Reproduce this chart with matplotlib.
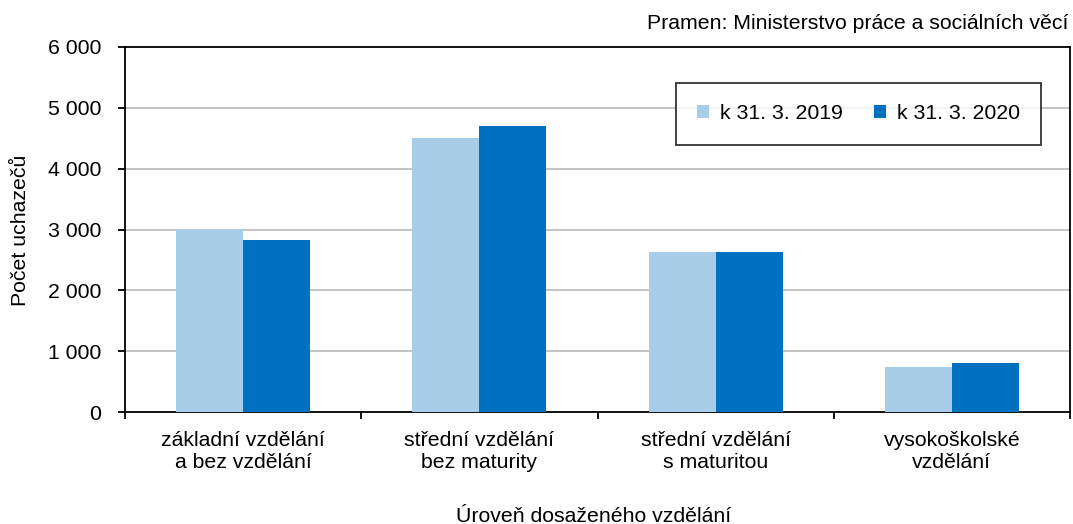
import matplotlib
matplotlib.use("Agg")
import matplotlib.pyplot as plt
import matplotlib.transforms as mtransforms
import numpy as np
from matplotlib.ticker import FuncFormatter, FixedLocator, NullFormatter

plt.rcParams["font.family"] = ["Liberation Sans", "DejaVu Sans"]

categories = ["základní vzdělání\na bez vzdělání", "střední vzdělání\nbez maturity",
              "střední vzdělání\ns maturitou", "vysokoškolské\nvzdělání"]
series_names = ["k 31. 3. 2019", "k 31. 3. 2020"]
vals_2019 = [3005, 4500, 2635, 735]
vals_2020 = [2830, 4700, 2635, 800]
colors = ["#a7cde8", "#0070c0"]

FS = 15.3
W, H = 1073, 524

fig = plt.figure(figsize=(W / 100, H / 100), dpi=100)
ax = fig.add_axes([125 / W, 1 - 412 / H, 945 / W, 365 / H])

x = np.arange(len(categories))
w = 0.284
ax.bar(x - w / 2, vals_2019, w, color=colors[0], label=series_names[0], zorder=3)
ax.bar(x + w / 2, vals_2020, w, color=colors[1], label=series_names[1], zorder=3)

ax.set_xlim(-0.5, len(categories) - 0.5)
ax.set_ylim(0, 6000)
ax.set_yticks(np.arange(0, 6001, 1000))
ax.yaxis.set_major_formatter(FuncFormatter(lambda v, p: f"{int(v):,}".replace(",", " ")))
ax.grid(axis="y", color="#bfbfbf", lw=1.3, zorder=0)

# category labels centred, ticks at category boundaries
ax.xaxis.set_major_locator(FixedLocator(np.arange(-0.5, len(categories), 1.0)))
ax.xaxis.set_major_formatter(NullFormatter())
trans = mtransforms.blended_transform_factory(ax.transData, fig.transFigure)
for xi, lab in zip(x, categories):
    for k, line in enumerate(lab.split("\n")):
        ax.text(xi, 1 - (446 + 22 * k) / H, line, ha="center", va="baseline",
                fontsize=FS, transform=trans)

ax.tick_params(axis="y", direction="out", length=5, width=1.3, labelsize=FS, pad=12)
ax.tick_params(axis="x", direction="out", length=5, width=1.3)
for s in ax.spines.values():
    s.set_linewidth(1.3)
    s.set_color("black")

fig.text(21 / W, 1 - 230 / H, "Počet uchazečů", rotation=90, ha="center", va="center",
         fontsize=FS)
fig.text(594 / W, 1 - 522 / H, "Úroveň dosaženého vzdělání", ha="center",
         va="baseline", fontsize=FS)
fig.text(1068 / W, 1 - 29 / H, "Pramen: Ministerstvo práce a sociálních věcí", ha="right",
         va="baseline", fontsize=FS)

leg = ax.legend(loc="upper right", bbox_to_anchor=((1041 - 125) / 945, (412 - 83) / 365),
                ncol=2, fontsize=FS, frameon=True, fancybox=False, edgecolor="black",
                handlelength=0.55, handleheight=0.55, handletextpad=0.5,
                columnspacing=1.5, borderpad=1.0, borderaxespad=0)
leg.get_frame().set_linewidth(1.3)

fig.savefig("out.png", dpi=100)
